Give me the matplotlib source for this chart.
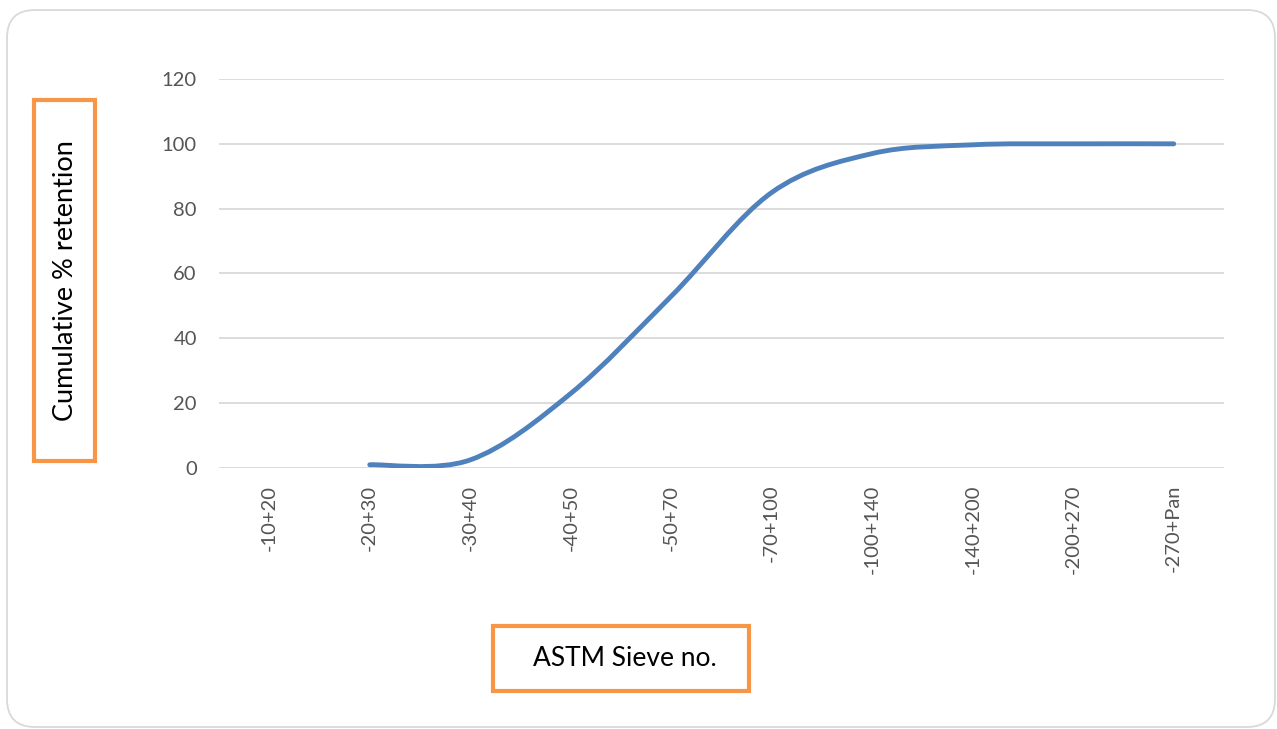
import numpy as np
import matplotlib
matplotlib.use("Agg")
import matplotlib.pyplot as plt
from matplotlib.path import Path
from matplotlib.patches import PathPatch, FancyBboxPatch, Rectangle
from matplotlib.transforms import IdentityTransform

categories = ["-10+20", "-20+30", "-30+40", "-40+50", "-50+70", "-70+100",
              "-100+140", "-140+200", "-200+270", "-270+Pan"]
cum_retention = [np.nan, 1.0, 2.5, 23.0, 53.0, 85.0, 97.0, 99.7, 100.0, 100.0]
y_ticks = [0, 20, 40, 60, 80, 100, 120]

W, H, DPI = 1277, 729, 100
plt.rcParams['font.family'] = ['Lato', 'DejaVu Sans']
fig = plt.figure(figsize=(W / DPI, H / DPI), dpi=DPI)
fig.patch.set_facecolor('white')

# outer rounded chart border (pixel coordinates)
border = FancyBboxPatch((7 + 25, 2 + 25), 1268 - 50, 717 - 50,
                        boxstyle="round,pad=25,rounding_size=28",
                        transform=IdentityTransform(), facecolor='none',
                        edgecolor='#d9d9d9', linewidth=1.3, zorder=-1)
fig.patches.append(border)

ax = fig.add_axes([219 / W, 1 - 468 / H, (1224 - 219) / W, (468 - 79) / H])
ax.set_zorder(1)
ax.set_facecolor('none')
ax.set_xlim(-0.5, len(categories) - 0.5)
ax.set_ylim(0, 120)
ax.set_yticks(y_ticks)
ax.set_xticks(range(len(categories)))
ax.set_xticklabels(categories, rotation=90)
for s in ax.spines.values():
    s.set_visible(False)
ax.tick_params(axis='both', length=0, labelsize=14.5, labelcolor='#555555')
ax.tick_params(axis='y', pad=16)
ax.tick_params(axis='x', pad=12)
ax.grid(axis='y', color='#d9d9d9', linewidth=1.3)
ax.set_axisbelow(True)

# smoothed line (Bezier through the data points, like Excel's smoothing)
xs = [i for i, v in enumerate(cum_retention) if not np.isnan(v)]
ys = [cum_retention[i] for i in xs]
pts = np.column_stack([xs, ys]).astype(float)
n = len(pts)
verts = [tuple(pts[0])]
codes = [Path.MOVETO]
for i in range(n - 1):
    p0 = pts[i - 1] if i > 0 else pts[i]
    p1 = pts[i]
    p2 = pts[i + 1]
    p3 = pts[i + 2] if i + 2 < n else pts[i + 1]
    c1 = p1 + (p2 - p0) / 6.0
    c2 = p2 - (p3 - p1) / 6.0
    verts += [tuple(c1), tuple(c2), tuple(p2)]
    codes += [Path.CURVE4, Path.CURVE4, Path.CURVE4]
patch = PathPatch(Path(verts, codes), facecolor='none', edgecolor='#4f81bd',
                  linewidth=3.5, capstyle='round', joinstyle='round', zorder=3)
ax.add_patch(patch)

# axis title boxes
orange = '#f79646'
fig.patches.append(Rectangle((34, 729 - 461), 61, 361, transform=IdentityTransform(),
                             facecolor='white', edgecolor=orange, linewidth=3.0, zorder=2))
fig.patches.append(Rectangle((493, 729 - 691), 256, 65, transform=IdentityTransform(),
                             facecolor='white', edgecolor=orange, linewidth=3.0, zorder=2))
fig.text(66 / W, 1 - 281 / H, "Cumulative % retention", rotation=90,
         ha='center', va='center', fontsize=19.5, color='black', zorder=5)
fig.text(625 / W, 1 - 658 / H, "ASTM Sieve no.", ha='center', va='center',
         fontsize=19, color='black', zorder=5)

fig.savefig("out.png", dpi=DPI, facecolor='white')
